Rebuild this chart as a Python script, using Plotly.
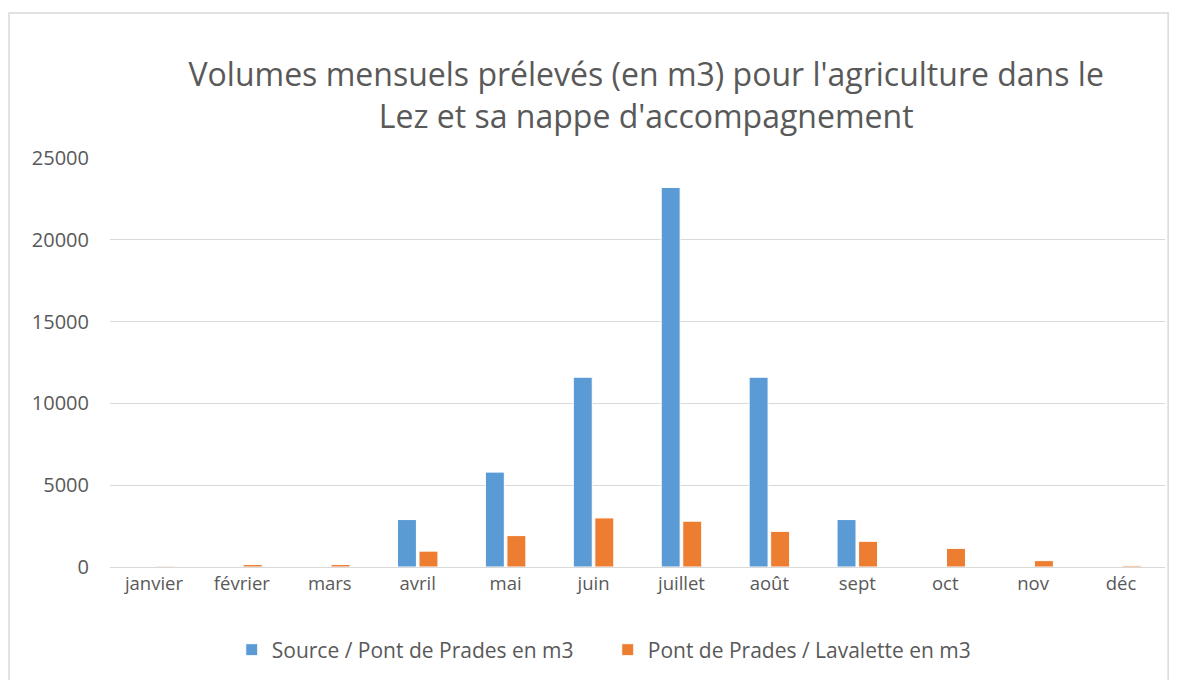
import plotly.graph_objects as go

mois = ["janvier", "février", "mars", "avril", "mai", "juin",
        "juillet", "août", "sept", "oct", "nov", "déc"]
source_pont = [0, 0, 0, 2900, 5800, 11600, 23200, 11600, 2900, 0, 0, 0]
pont_lavalette = [50, 150, 150, 970, 1920, 3000, 2800, 2180, 1570, 1140, 390, 80]

police = "Open Sans"
gris = "#595959"

fig = go.Figure()
fig.add_trace(go.Bar(x=mois, y=source_pont, name="Source / Pont de Prades en m3",
                     marker=dict(color="#5b9bd5", line=dict(color="white", width=1))))
fig.add_trace(go.Bar(x=mois, y=pont_lavalette, name="Pont de Prades / Lavalette en m3",
                     marker=dict(color="#ed7d31", line=dict(color="white", width=1))))

fig.update_layout(
    width=1184, height=680,
    paper_bgcolor="white", plot_bgcolor="white",
    margin=dict(l=102, r=27, t=150, b=121),
    barmode="group", bargap=0.51, bargroupgap=0.12,
    title=dict(text="Volumes mensuels prélevés (en m3) pour l'agriculture dans le<br>Lez et sa nappe d'accompagnement",
               x=0.539, xanchor="center", y=0.885, yanchor="middle",
               font=dict(family=police, size=32, color=gris)),
    font=dict(family=police, size=18, color=gris),
    legend=dict(orientation="h", x=0.1154, xanchor="left", y=-0.203, yanchor="middle",
                font=dict(size=21, color=gris), itemwidth=30,
                entrywidth=331, entrywidthmode="pixels"),
    xaxis=dict(showgrid=False, linecolor="#d9d9d9", linewidth=1, ticks="",
               tickfont=dict(size=18.5, color=gris)),
    yaxis=dict(range=[0, 25000], dtick=5000, gridcolor="#d9d9d9", zeroline=False,
               tickfont=dict(size=20, color=gris), ticklabelstandoff=20,
               showline=False, tickformat="d"),
    shapes=[dict(type="rect", xref="paper", yref="paper", x0=-0.0957, x1=1.003,
                 y0=-0.35, y1=1.3545, line=dict(color="#d9d9d9", width=1.5))],
)

fig.write_html("out.html")
